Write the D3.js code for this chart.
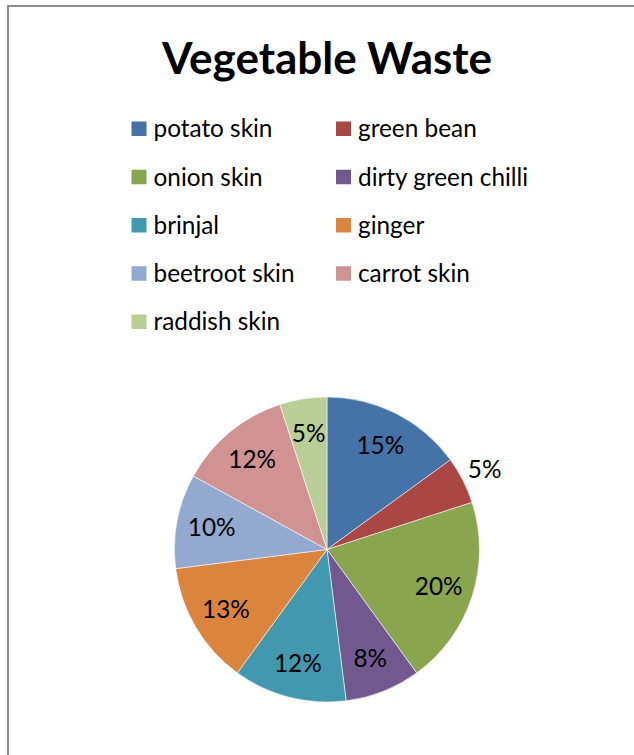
<!DOCTYPE html>
<html>
<head>
<meta charset="utf-8">
<script src="https://cdn.jsdelivr.net/npm/d3@7"></script>
<style>
  html, body { margin: 0; padding: 0; background: #fff; }
  svg { display: block; }
  text { font-family: Lato, "Open Sans", "Noto Sans", sans-serif; fill: #000; }
</style>
</head>
<body>
<svg id="chart" width="634" height="755"></svg>
<script>
// Vegetable waste composition (percent of total)
const titleText = "Vegetable Waste";
const categories = ["potato skin", "green bean", "onion skin", "dirty green chilli",
                    "brinjal", "ginger", "beetroot skin", "carrot skin", "raddish skin"];
const values = [15, 5, 20, 8, 12, 13, 10, 12, 5];
const colors = ["#4572A7", "#AA4643", "#89A54E", "#71588F", "#4198AF",
                "#DB843D", "#93A9CF", "#D19392", "#B9CD96"];
// where each data label sits relative to its slice
const labelPlacement = ["in", "out", "in", "in", "in", "in", "in", "in", "in"];

const W = 634, H = 755;
const svg = d3.select("#chart");

// outer chart frame (only top and left edges fall inside the view)
svg.append("rect")
  .attr("x", 8).attr("y", 6)
  .attr("width", W + 20).attr("height", H + 20)
  .attr("fill", "#fff")
  .attr("stroke", "#8c8c8c")
  .attr("stroke-width", 2);

// size text so that a sample string spans a given width
function fitSize(str, weight, targetWidth) {
  const t = svg.append("text").attr("font-size", 100).attr("font-weight", weight).text(str);
  const w = t.node().getComputedTextLength();
  t.remove();
  return 100 * targetWidth / w;
}

const titleSize = fitSize(titleText, "bold", 330);
svg.append("text")
  .attr("x", 327).attr("y", 73.5)
  .attr("text-anchor", "middle")
  .attr("font-weight", "bold")
  .attr("font-size", titleSize)
  .text(titleText);

const bodySize = fitSize("potato skin", "normal", 119);

// legend: two columns
const legendX = [131.5, 336], rowY0 = 129, rowStep = 48.25, sw = 15;
const legend = svg.append("g");
categories.forEach((c, i) => {
  const col = i % 2, row = Math.floor(i / 2);
  const g = legend.append("g")
    .attr("transform", `translate(${legendX[col]},${rowY0 + row * rowStep})`);
  g.append("rect")
    .attr("x", 0).attr("y", -sw / 2)
    .attr("width", sw).attr("height", sw - 0.5)
    .attr("fill", colors[i]);
  g.append("text")
    .attr("x", 22).attr("y", 0).attr("dy", "0.34em")
    .attr("font-size", bodySize)
    .text(c);
});

// pie
const cx = 327, cy = 549.5, R = 152.5;
const pie = d3.pie().value(d => d).sort(null);
const arcs = pie(values);
const arc = d3.arc().innerRadius(0).outerRadius(R);
const gPie = svg.append("g").attr("transform", `translate(${cx},${cy})`);

gPie.selectAll("path.slice")
  .data(arcs)
  .join("path")
  .attr("class", "slice")
  .attr("d", arc)
  .attr("fill", (d, i) => colors[i])
  .attr("stroke", "#ffffff")
  .attr("stroke-opacity", 0.7)
  .attr("stroke-width", 0.8);

const inArc = d3.arc().innerRadius(R * 0.77).outerRadius(R * 0.77);
const outArc = d3.arc().innerRadius(R * 1.16).outerRadius(R * 1.16);

gPie.selectAll("text.lbl")
  .data(arcs)
  .join("text")
  .attr("class", "lbl")
  .attr("transform", (d, i) => {
    const p = (labelPlacement[i] === "out" ? outArc : inArc).centroid(d);
    return `translate(${p[0]},${p[1]})`;
  })
  .attr("text-anchor", "middle")
  .attr("dy", "0.36em")
  .attr("font-size", bodySize)
  .text(d => d.data + "%");
</script>
</body>
</html>
